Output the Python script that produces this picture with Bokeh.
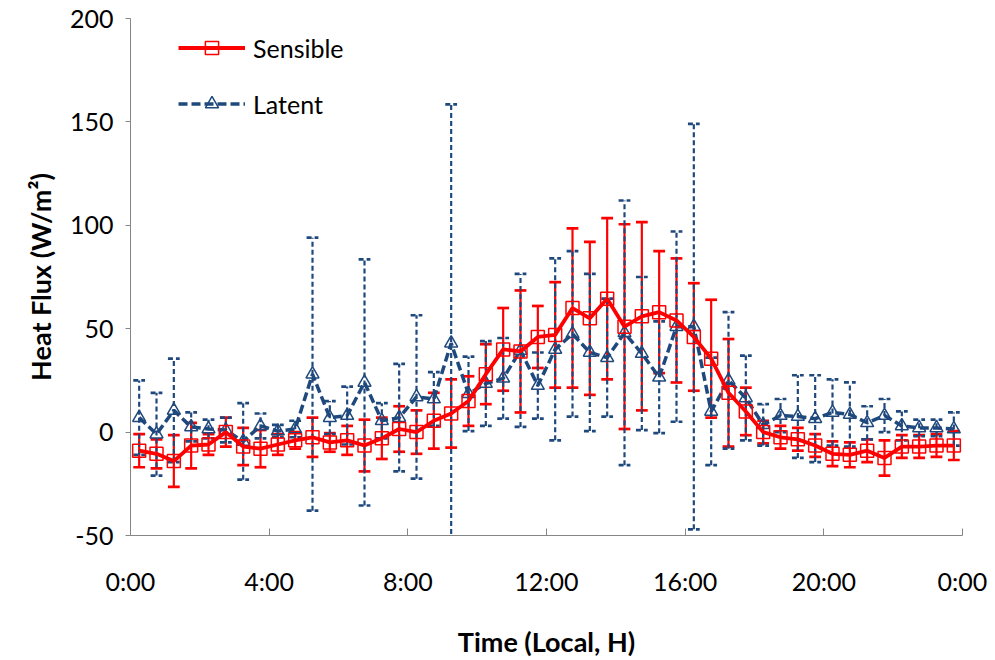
from bokeh.plotting import figure
from bokeh.models import Legend, LegendItem, FixedTicker, Range1d
from bokeh.embed import file_html
from bokeh.resources import INLINE

# Half-hourly mean heat fluxes (W/m2) with their standard deviations
times = ["0:15", "0:45", "1:15", "1:45", "2:15", "2:45", "3:15", "3:45",
         "4:15", "4:45", "5:15", "5:45", "6:15", "6:45", "7:15", "7:45",
         "8:15", "8:45", "9:15", "9:45", "10:15", "10:45", "11:15", "11:45",
         "12:15", "12:45", "13:15", "13:45", "14:15", "14:45", "15:15", "15:45",
         "16:15", "16:45", "17:15", "17:45", "18:15", "18:45", "19:15", "19:45",
         "20:15", "20:45", "21:15", "21:45", "22:15", "22:45", "23:15", "23:45"]

sensible = [-9, -10.5, -14, -6.5, -6, 0, -7, -8, -6, -4,
            -2.5, -5, -4, -6.5, -3, 1.5, 0, 5.5, 9, 15,
            28, 40, 39, 46, 47, 60, 55, 64.5, 51, 56,
            58, 54, 46, 35.5, 19, 10, 0, -2.5, -3.5, -6.5,
            -10.5, -11, -9, -12.5, -7, -7, -6.5, -6.5]
sensible_sd = [8, 7, 12.5, 11, 5, 7, 9, 9, 5, 4,
               9.5, 4.5, 7, 12.5, 10, 11, 10.5, 13.5, 16.5, 12,
               14.5, 20, 29.5, 15, 25.5, 38.5, 37, 39, 49.5, 45.5,
               29.5, 30, 26, 28.5, 26, 11.5, 5.5, 5.5, 5.5, 5.5,
               6, 6, 5.5, 8.5, 5.5, 5.5, 5.5, 7]

latent = [7, -1, 10.5, 2.5, 1.5, 1, -4.5, 3, 0.5, 1.5,
          28, 7, 8, 24, 5.5, 7, 17, 16, 43, 18.5,
          23.5, 26, 39.5, 22.5, 40, 47.5, 38.5, 36, 48, 38,
          26.5, 51, 51, 10, 25, 16.5, 3.5, 8, 7.5, 6.5,
          9.5, 8.5, 4.5, 8, 3, 2, 2, 1.5]
latent_sd = [18, 20, 25, 7, 4.5, 6, 18.5, 6, 3, 4,
             66, 8, 14, 59.5, 8.5, 26, 39.5, 13, 115.5, 18,
             20.5, 19.5, 37, 16, 44, 40, 38, 28.5, 64, 37,
             27, 46, 98, 26, 33, 20.5, 10, 8, 20, 21,
             16, 15.5, 8, 8, 7, 4, 4, 8]

tick_hours = [0, 4, 8, 12, 16, 20, 24]
tick_labels = ["0:00", "4:00", "8:00", "12:00", "16:00", "20:00", "0:00"]
flux_ticks = [-50, 0, 50, 100, 150, 200]
flux_labels = ["-50", "0", "50", "100", "150", "200"]

RED = "#FF0000"
BLUE = "#1F497D"
FONT = "Lato"

hours = [int(h) + int(m) / 60 for h, m in (t.split(":") for t in times)]

p = figure(width=995, height=660, output_backend="svg", toolbar_location=None,
           x_range=Range1d(0, 24), y_range=Range1d(-50, 200),
           min_border_left=130, min_border_right=33,
           min_border_top=18, min_border_bottom=125)
p.outline_line_color = None
p.xgrid.visible = False
p.ygrid.visible = False
p.background_fill_color = "white"
p.border_fill_color = "white"


def error_bars(vals, sds, color, dash, width):
    lo = [v - s for v, s in zip(vals, sds)]
    hi = [v + s for v, s in zip(vals, sds)]
    cap = 0.17
    p.segment(x0=hours, y0=lo, x1=hours, y1=hi, line_color=color,
              line_width=width, line_dash=dash)
    for ends in (lo, hi):
        p.segment(x0=[h - cap for h in hours], y0=ends,
                  x1=[h + cap for h in hours], y1=ends,
                  line_color=color, line_width=width + 0.5, line_dash=dash)


# whiskers first, latent on top of sensible
error_bars(sensible, sensible_sd, RED, "solid", 2.2)
error_bars(latent, latent_sd, BLUE, "5 3", 2.2)

lat_line = p.line(hours, latent, line_color=BLUE, line_width=3.5, line_dash="9 4")
lat_mark = p.scatter(hours, latent, marker="triangle", size=13,
                     line_color=BLUE, line_width=1.5, fill_color=None)
sen_line = p.line(hours, sensible, line_color=RED, line_width=3.8)
sen_mark = p.scatter(hours, sensible, marker="square", size=13,
                     line_color=RED, line_width=1.5, fill_color=None)

legend = Legend(items=[LegendItem(label="Sensible", renderers=[sen_line, sen_mark]),
                       LegendItem(label="Latent", renderers=[lat_line, lat_mark])],
                location=(43, 410), padding=5, margin=0, spacing=23,
                glyph_width=67, glyph_height=33, label_height=20,
                label_standoff=8, label_text_font=FONT,
                label_text_font_size="25px", label_text_color="black",
                border_line_alpha=0, background_fill_alpha=0)
p.add_layout(legend)

for ax in (p.xaxis[0], p.yaxis[0]):
    ax.axis_line_color = "#868686"
    ax.major_tick_line_color = "#868686"
    ax.minor_tick_line_color = None
    ax.major_label_text_font = FONT
    ax.major_label_text_font_size = "25px"
    ax.major_label_text_color = "black"
    ax.axis_label_text_font = FONT
    ax.axis_label_text_font_size = "27px"
    ax.axis_label_text_font_style = "bold"
    ax.axis_label_text_color = "black"

p.xaxis.ticker = FixedTicker(ticks=tick_hours)
p.xaxis.major_label_overrides = {h: lab for h, lab in zip(tick_hours, tick_labels)}
p.xaxis.major_tick_in = 7
p.xaxis.major_tick_out = 0
p.xaxis.major_label_standoff = 30
p.xaxis.axis_label = "Time (Local, H)"
p.xaxis.axis_label_standoff = 26

p.yaxis.ticker = FixedTicker(ticks=flux_ticks)
p.yaxis.major_label_overrides = {v: lab for v, lab in zip(flux_ticks, flux_labels)}
p.yaxis.major_tick_in = 0
p.yaxis.major_tick_out = 5
p.yaxis.major_label_standoff = 12
p.yaxis.axis_label = "Heat Flux (W/m²)"
p.yaxis.axis_label_standoff = 10

open("out.html", "w").write(file_html(p, INLINE))
